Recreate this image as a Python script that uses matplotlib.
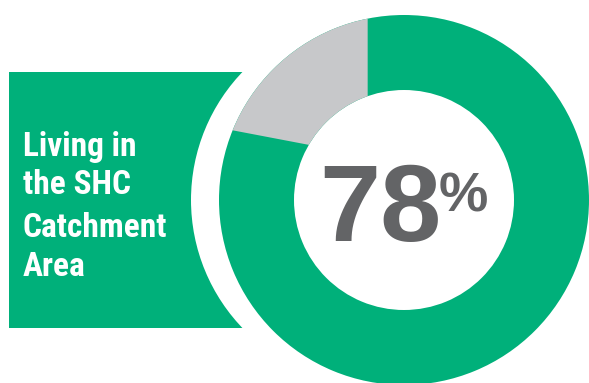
import matplotlib
matplotlib.use("Agg")
import matplotlib.pyplot as plt
from matplotlib import font_manager
from matplotlib.patches import Rectangle, Circle, Wedge
import numpy as np

# share of respondents living in the catchment area
shares = [78, 22]
share_colors = ["#00B07A", "#C7C8CA"]
label_lines = ["Living in", "the SHC", "Catchment", "Area"]
big_value = f"{shares[0]}"
value_color = "#636466"


def pick_font(candidates):
    installed = {f.name for f in font_manager.fontManager.ttflist}
    for name in candidates:
        if name in installed:
            return name
    return "DejaVu Sans"


label_font = pick_font(["Liberation Sans Narrow", "Roboto Condensed",
                        "Roboto", "Liberation Sans", "Arial"])
number_font = pick_font(["Liberation Sans", "Arial", "Roboto"])

W, H = 589, 383
fig = plt.figure(figsize=(W / 100, H / 100), dpi=100)
ax = fig.add_axes([0, 0, 1, 1])
ax.set_xlim(0, W)
ax.set_ylim(0, H)
ax.set_aspect("equal")
ax.axis("off")

# donut geometry (pixel units, y up)
cx, cy = 404, 183
r_out, r_in = 185, 110

# green label panel on the left
ax.add_patch(Rectangle((9, 55), 300, 256, color=share_colors[0], lw=0, zorder=1))
# white halo that cuts the panel next to the ring
ax.add_patch(Circle((cx - 28, cy), r_out, color="white", lw=0, zorder=2))

# full green ring
ring = Wedge((cx, cy), r_out, 0, 360, width=r_out - r_in,
             color=share_colors[0], lw=0, zorder=3)
ax.add_patch(ring)

# gray slice, pulled out along its bisector and clipped to the ring
span = 360 * shares[1] / 100
theta1, theta2 = 90, 90 + span
mid = np.deg2rad((theta1 + theta2) / 2)
explode = 57
apex = (cx + explode * np.cos(mid), cy + explode * np.sin(mid))
gray = Wedge(apex, 400, theta1, theta2, color=share_colors[1], lw=0, zorder=4)
ax.add_patch(gray)
gray.set_clip_path(ring)

# panel text
baselines = [227.3, 189, 146.3, 107]
for line, yb in zip(label_lines, baselines):
    ax.text(23, yb, line, color="white", fontsize=24, fontweight="bold",
            family=label_font, ha="left", va="baseline", zorder=5)

# big percentage in the hole
ax.text(442, 141.5, big_value, color=value_color, fontsize=79,
        fontweight="bold", family=number_font,
        ha="right", va="baseline", zorder=5)
ax.text(439, 172, "%", color=value_color, fontsize=40,
        fontweight="bold", family=number_font,
        ha="left", va="baseline", zorder=5)

fig.savefig("out.png", dpi=100)
